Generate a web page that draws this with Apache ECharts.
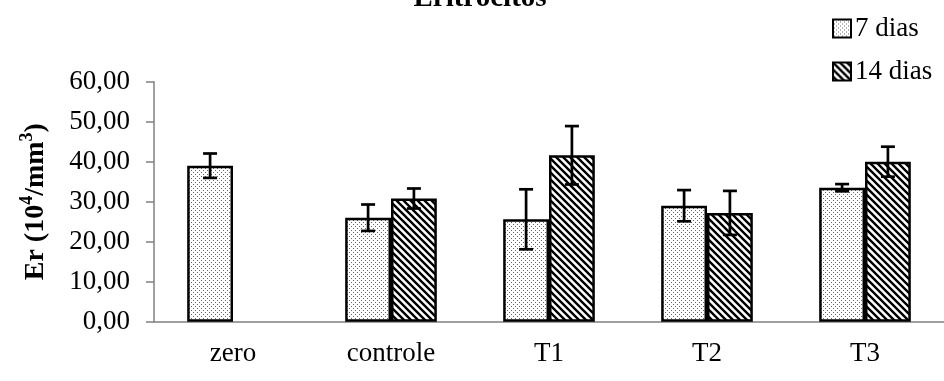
<!DOCTYPE html>
<html><head><meta charset="utf-8">
<script src="https://cdn.jsdelivr.net/npm/echarts@6/dist/echarts.min.js"></script>
<style>html,body{margin:0;padding:0;background:#fff}#c{width:944px;height:381px}</style>
</head><body><div id="c"></div>
<script>
const titleText = 'Eritrocitos';
const categories = ['zero', 'controle', 'T1', 'T2', 'T3'];
const seriesNames = ['7 dias', '14 dias'];
const dias7 = [39.0, 26.0, 25.6, 29.0, 33.5];
const dias14 = [null, 30.8, 41.6, 27.2, 40.0];
const err7 = [3.05, 3.3, 7.5, 3.9, 0.9];
const err14 = [null, 2.5, 7.3, 5.5, 3.75];
const yTicks = [0, 10, 20, 30, 40, 50, 60];

const FONT = '"Liberation Serif", "Times New Roman", serif';

function dotPattern() {
  const c = document.createElement('canvas');
  c.width = 4; c.height = 4;
  const g = c.getContext('2d');
  g.fillStyle = '#fff'; g.fillRect(0, 0, 4, 4);
  g.fillStyle = '#666';
  g.fillRect(1, 0, 1, 1);
  g.fillRect(3, 2, 1, 1);
  return c;
}
function hatchPattern() {
  const s = 7;
  const c = document.createElement('canvas');
  c.width = s; c.height = s;
  const g = c.getContext('2d');
  g.fillStyle = '#fff'; g.fillRect(0, 0, s, s);
  g.strokeStyle = '#000'; g.lineWidth = 2.4;
  g.beginPath();
  for (let k = -1; k <= 1; k++) {
    g.moveTo(k * s - 1, -1);
    g.lineTo(k * s + s + 1, s + 1);
  }
  g.stroke();
  return c;
}

const chart = echarts.init(document.getElementById('c'), null, {renderer: 'canvas'});
const barCatGap = 0.42;

function errSeries(vals, errs, sIdx) {
  return {
    type: 'custom',
    silent: true,
    z: 5,
    data: vals.map((v, i) => [i, v, errs[i]]),
    renderItem: function (params, api) {
      const v = api.value(1), e = api.value(2);
      if (v == null || isNaN(v) || e == null || isNaN(e)) return;
      const catW = api.size([1, 0])[0];
      const bw = catW * (1 - barCatGap) / 2;
      const base = api.coord([api.value(0), v]);
      const x = base[0] + (sIdx === 0 ? -bw / 2 : bw / 2);
      const yt = api.coord([api.value(0), v + e])[1];
      const yb = api.coord([api.value(0), v - e])[1];
      const cap = 7;
      const st = {stroke: '#000', lineWidth: 2.7};
      return {type: 'group', children: [
        {type: 'line', shape: {x1: x, y1: yt, x2: x, y2: yb}, style: st},
        {type: 'line', shape: {x1: x - cap, y1: yt, x2: x + cap, y2: yt}, style: st},
        {type: 'line', shape: {x1: x - cap, y1: yb, x2: x + cap, y2: yb}, style: st}
      ]};
    }
  };
}

chart.setOption({
  animation: false,
  backgroundColor: '#fff',
  title: {
    text: titleText, left: 475, top: -21, textAlign: 'center',
    textStyle: {fontFamily: FONT, fontSize: 29, fontWeight: 'bold', color: '#000'}
  },
  legend: {
    orient: 'vertical', left: 827, top: 10, itemWidth: 18, itemHeight: 18, itemGap: 16,
    icon: 'rect',
    data: seriesNames,
    textStyle: {fontFamily: FONT, fontSize: 27, color: '#000', padding: [0, 0, 0, -1]}
  },
  grid: {left: 154, right: 0, top: 81.7, bottom: 59.3, containLabel: false},
  xAxis: {
    type: 'category', data: categories,
    axisLine: {lineStyle: {color: '#808080', width: 1.5}},
    axisTick: {length: 8, lineStyle: {color: '#808080', width: 1.5}},
    axisLabel: {fontFamily: FONT, fontSize: 27, color: '#000', margin: 19}
  },
  yAxis: {
    type: 'value', min: yTicks[0], max: yTicks[yTicks.length - 1], interval: 10,
    name: '{b|Er (10}{s|4}{b|/mm}{s|3}{b|)}',
    nameLocation: 'middle', nameGap: 104, nameRotate: 90,
    nameTextStyle: {
      rich: {
        b: {fontFamily: FONT, fontSize: 28, fontWeight: 'bold', color: '#000', verticalAlign: 'bottom', lineHeight: 32},
        s: {fontFamily: FONT, fontSize: 18, fontWeight: 'bold', color: '#000', verticalAlign: 'top', lineHeight: 32, padding: [0, 0, 10, 0]}
      }
    },
    splitLine: {show: false},
    axisLine: {show: true, lineStyle: {color: '#808080', width: 1.5}},
    axisTick: {show: true, length: 8, lineStyle: {color: '#808080', width: 1.5}},
    axisLabel: {
      fontFamily: FONT, fontSize: 27, color: '#000', margin: 24,
      formatter: v => v.toFixed(2).replace('.', ',')
    }
  },
  series: [
    {name: seriesNames[0], type: 'bar', data: dias7, barGap: '0%', barCategoryGap: (barCatGap * 100) + '%',
     itemStyle: {color: {image: dotPattern(), repeat: 'repeat'}, borderColor: '#000', borderWidth: 2.5}},
    {name: seriesNames[1], type: 'bar', data: dias14, barGap: '0%', barCategoryGap: (barCatGap * 100) + '%',
     itemStyle: {color: {image: hatchPattern(), repeat: 'repeat'}, borderColor: '#000', borderWidth: 2.5}},
    errSeries(dias7, err7, 0),
    errSeries(dias14, err14, 1)
  ]
});
</script></body></html>
